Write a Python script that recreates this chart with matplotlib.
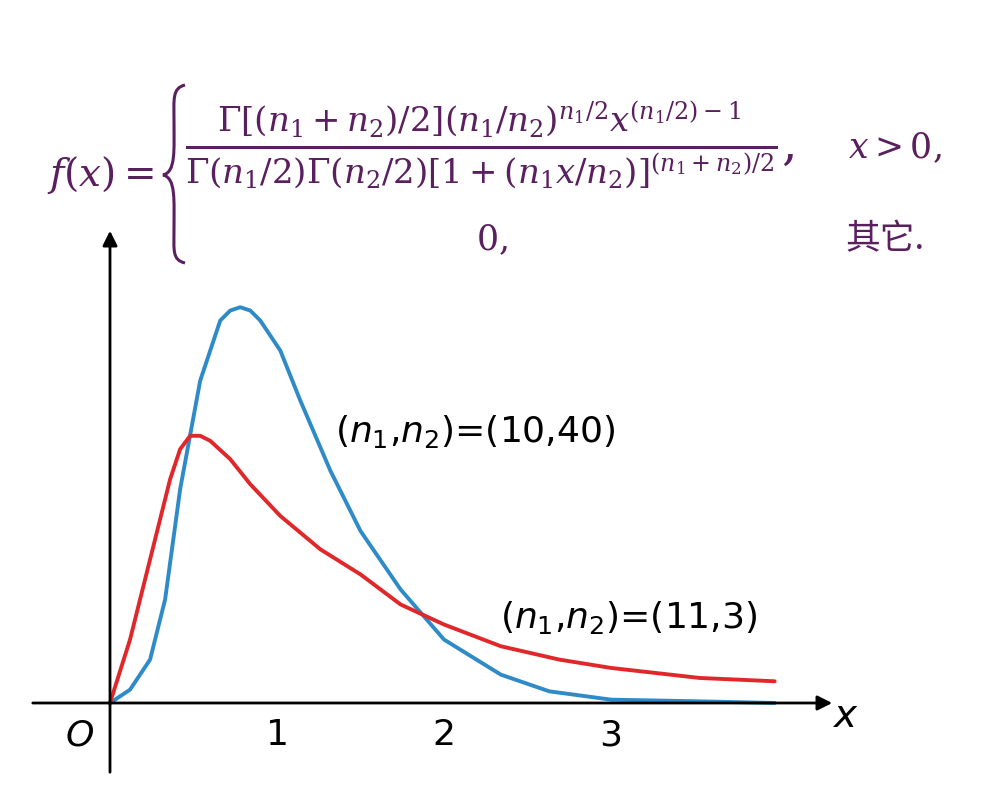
import matplotlib
matplotlib.use("Agg")
import matplotlib.pyplot as plt
from matplotlib.path import Path
from matplotlib.patches import PathPatch

# values (x in axis units, y in the same unit length)
blue_x = [0, 0.12, 0.24, 0.33, 0.42, 0.54, 0.66, 0.72, 0.78, 0.84, 0.90, 1.02, 1.14, 1.32, 1.50, 1.74, 2.0, 2.34, 2.63, 3.0, 3.53, 3.98]
blue_y = [0, 0.08, 0.26, 0.62, 1.28, 1.93, 2.29, 2.35, 2.37, 2.35, 2.29, 2.11, 1.81, 1.39, 1.03, 0.68, 0.38, 0.17, 0.07, 0.02, 0.01, 0.0]
red_x = [0, 0.12, 0.24, 0.36, 0.42, 0.48, 0.54, 0.60, 0.72, 0.84, 1.02, 1.26, 1.50, 1.74, 2.0, 2.34, 2.69, 3.0, 3.53, 3.98]
red_y = [0, 0.38, 0.86, 1.34, 1.52, 1.60, 1.60, 1.57, 1.46, 1.31, 1.12, 0.92, 0.77, 0.59, 0.47, 0.34, 0.26, 0.21, 0.15, 0.13]
ticks = [1, 2, 3]

S = 167.0  # pixels per unit
fig = plt.figure(figsize=(9.92, 8.06), dpi=100)
ax = fig.add_axes([0, 0, 1, 1])
ax.set_xlim(-110 / S, (992 - 110) / S)
ax.set_ylim((703 - 806) / S, 703 / S)
ax.axis("off")

def P(px, py):
    return ((px - 110) / S, (703 - py) / S)

ax.plot(blue_x, blue_y, color="#2e8bc8", lw=2.8, solid_capstyle="round")
ax.plot(red_x, red_y, color="#e0282a", lw=2.8, solid_capstyle="round")

# axes with arrows
ax.annotate("", xy=P(835, 703), xytext=P(30, 703),
            arrowprops=dict(arrowstyle="-|>", color="black", lw=2, mutation_scale=22))
ax.annotate("", xy=P(110, 228), xytext=P(110, 775),
            arrowprops=dict(arrowstyle="-|>", color="black", lw=2, mutation_scale=22))
for t in ticks:
    ax.text(t, P(0, 735)[1], str(t), fontsize=26, ha="center", va="center")
ax.text(*P(80, 735), "O", fontsize=26, style="italic", ha="center", va="center")
ax.text(*P(845, 716), "x", fontsize=28, style="italic", ha="center", va="center")

ax.text(*P(335, 432), r"($\mathit{n}_1$,$\mathit{n}_2$)=(10,40)", fontsize=26, ha="left", va="center")
ax.text(*P(500, 617), r"($\mathit{n}_1$,$\mathit{n}_2$)=(11,3)", fontsize=26, ha="left", va="center")

# formula
purple = "#5a1f5e"
plt.rcParams["mathtext.fontset"] = "dejavuserif"
ax.text(*P(100, 175), r"$f(x)=$", fontsize=28, color=purple, ha="center", va="center")

# thin curly brace
verts = [P(185, 85), P(172, 88), P(174, 100), P(174, 120),
         P(174, 150), P(176, 172), P(163, 175),
         P(176, 178), P(174, 200), P(174, 230),
         P(174, 250), P(172, 260), P(185, 263)]
codes = [Path.MOVETO] + [Path.CURVE4] * 12
ax.add_patch(PathPatch(Path(verts, codes), fill=False, edgecolor=purple, lw=2.2))

ax.text(*P(490, 145),
        r"$\frac{\Gamma[(n_1+n_2)/2](n_1/n_2)^{n_1/2}x^{(n_1/2)-1}}{\Gamma(n_1/2)\Gamma(n_2/2)[1+(n_1x/n_2)]^{(n_1+n_2)/2}},$",
        fontsize=35, color=purple, ha="center", va="center")
ax.text(*P(895, 148), r"$x>0,$", fontsize=25, color=purple, ha="center", va="center")
ax.text(*P(492, 240), r"$0,$", fontsize=25, color=purple, ha="center", va="center")
ax.text(*P(885, 240), "其它.", fontsize=25, color=purple, ha="center", va="center",
        family=["Noto Sans CJK SC", "DejaVu Sans"])

fig.savefig("out.png", dpi=100)
